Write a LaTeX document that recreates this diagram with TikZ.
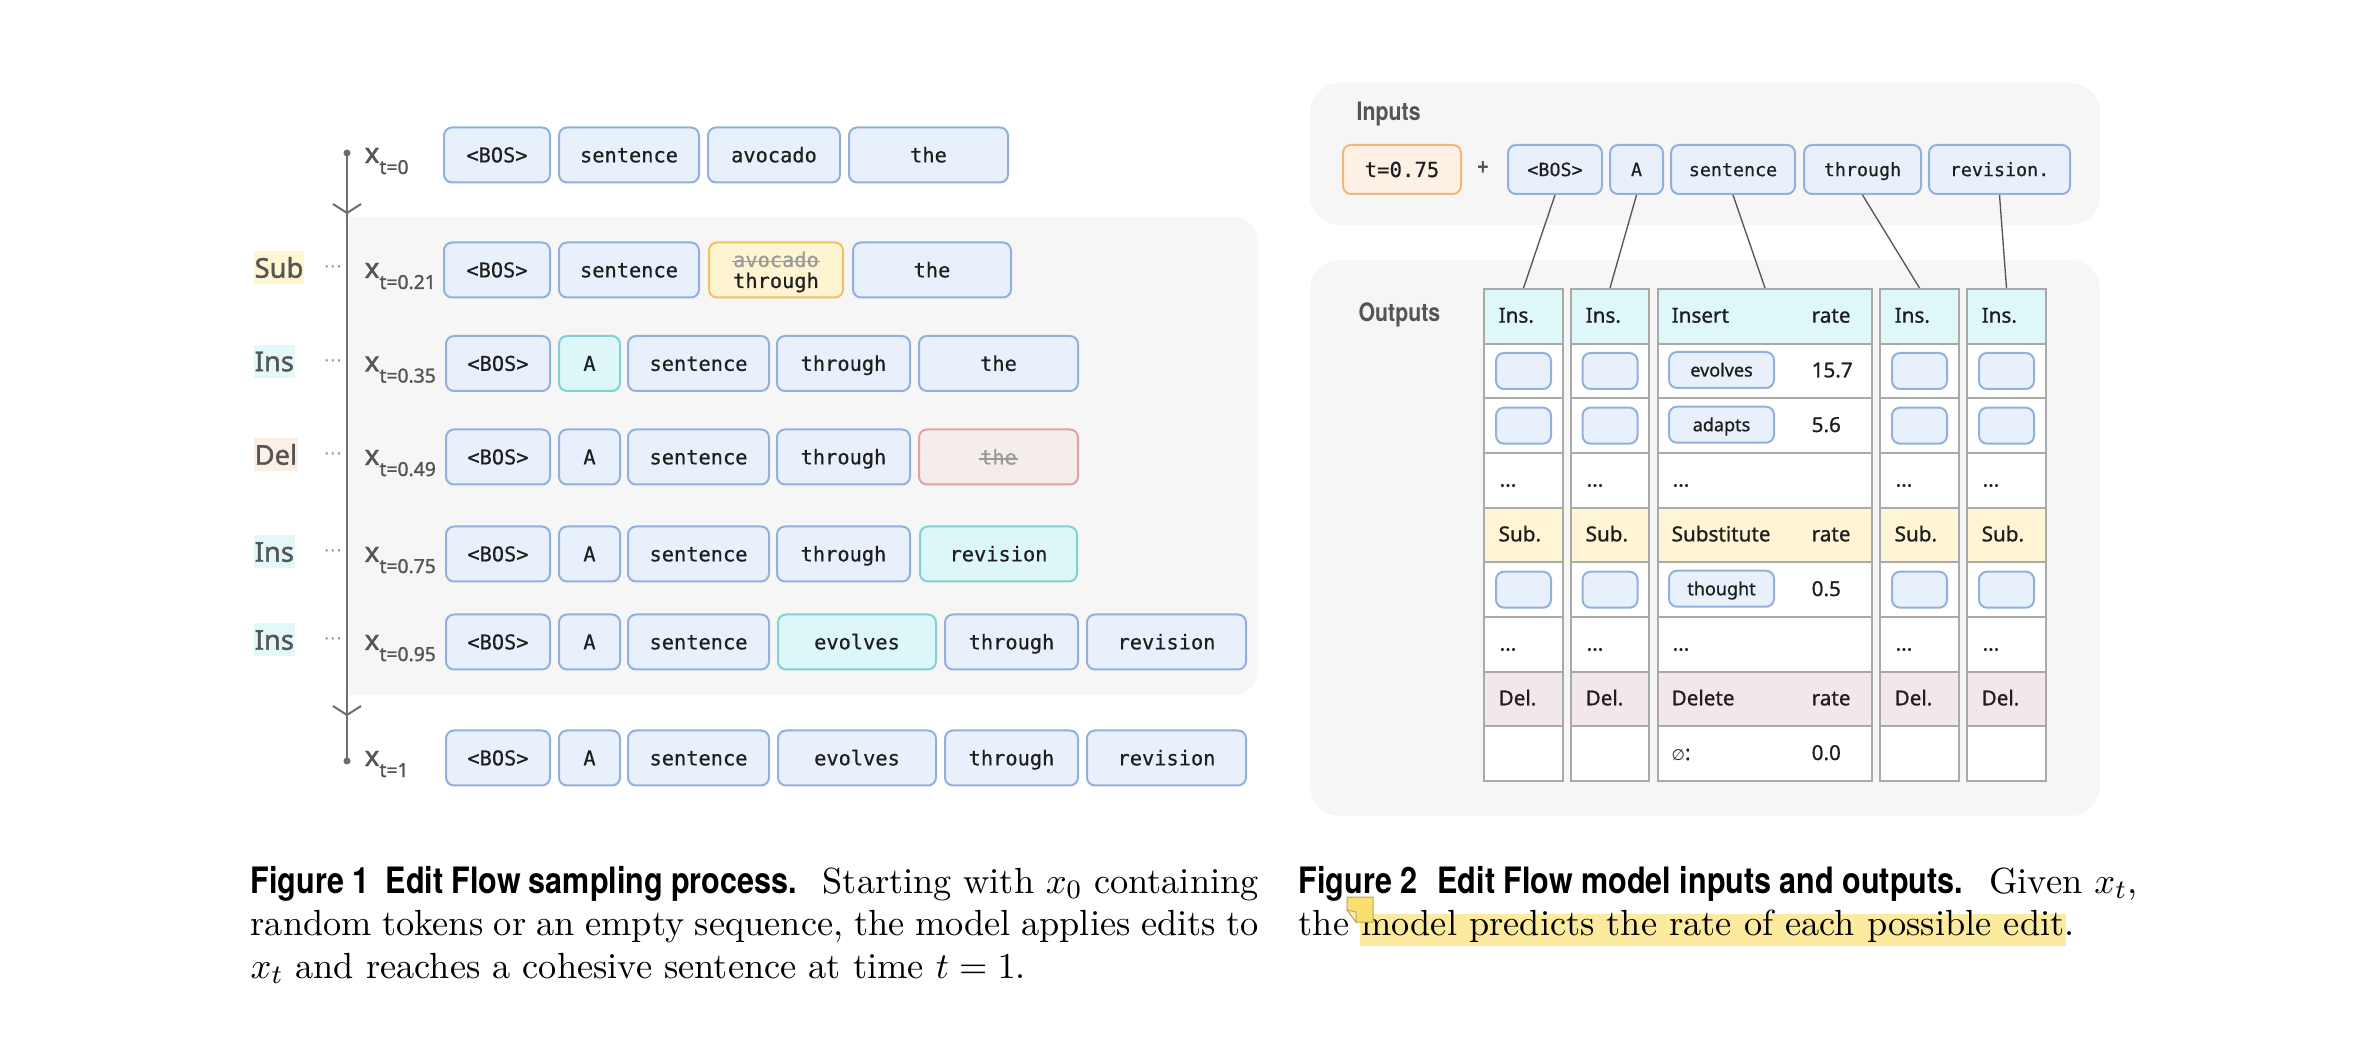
\documentclass[tikz,border=0pt]{standalone}
\usepackage{fontspec}
\setmainfont{Latin Modern Roman}
\newfontfamily\nsans{Noto Sans}[FakeBold=0.9]
\newfontfamily\nsansm{Noto Sans}[FakeBold=1.4]
\newfontfamily\mono{DejaVu Sans Mono}[FakeBold=0.5]
\newfontfamily\dvs{DejaVu Sans}
\newfontfamily\capbf{TeX Gyre Heros}[FakeStretch=0.84]
\newcommand\fs[1]{\fontsize{#1}{#1}\selectfont}
\definecolor{tokf}{HTML}{E8F0FB}
\definecolor{tokb}{HTML}{92B0DC}
\definecolor{cyf}{HTML}{DDF7F8}
\definecolor{cyb}{HTML}{7FD2D2}
\definecolor{yef}{HTML}{FFF4D2}
\definecolor{yeb}{HTML}{EFC062}
\definecolor{ref}{HTML}{F5ECEC}
\definecolor{reb}{HTML}{E3A2A2}
\definecolor{orf}{HTML}{FDF1E6}
\definecolor{orb}{HTML}{F2B878}
\definecolor{panel}{HTML}{F6F6F6}
\definecolor{axisc}{HTML}{6E6E6E}
\definecolor{lbl}{HTML}{555555}
\definecolor{strk}{HTML}{9A9A9A}
\definecolor{subbg}{HTML}{FFF6D2}
\definecolor{insbg}{HTML}{E2F8F9}
\definecolor{delbg}{HTML}{FCEFE3}
\definecolor{insf}{HTML}{DEF7F9}
\definecolor{subf}{HTML}{FFF5D5}
\definecolor{delf}{HTML}{F2E8EC}
\definecolor{cellb}{HTML}{A9A9A9}
\definecolor{txt}{HTML}{1E1E1E}
\definecolor{hl}{HTML}{FCEA9E}
\definecolor{notef}{HTML}{F8DF6E}
\definecolor{noteb}{HTML}{BFA75A}
\newcommand\tk[6][tok]{\node[#1,minimum width={(#4-#3)*0.3pt}] (#2) at ({(#3+#4)/2},#5) {#6};}
\newcommand\subf{\nsansm\fs{5.8pt}}
\tikzset{
  tok/.style={draw=tokb, fill=tokf, line width=0.6pt, rounded corners=2.4pt, inner sep=0pt,
    minimum height=16.5pt, font=\mono\fs{6.1pt}, text=txt, text height=4.4pt, text depth=0pt},
  tokc/.style={tok, draw=cyb, fill=cyf},
  toky/.style={tok, draw=yeb, fill=yef},
  tokr/.style={tok, draw=reb, fill=ref},
  itok/.style={tok, minimum height=14.7pt, font=\mono\fs{5.5pt}, text height=4pt},
  toko/.style={itok, draw=orb, fill=orf, font=\mono\fs{6.2pt}, text height=4.5pt},
  ttxt/.style={inner sep=0pt, font=\mono\fs{6.1pt}, text=txt, anchor=base},
  xlab/.style={anchor=base west, inner sep=0pt, font=\nsansm\fs{8.4pt}, text=lbl},
  rlab/.style={anchor=west, inner xsep=0.3pt, inner ysep=0pt, minimum height=9.9pt,
    font=\nsansm\fs{8.2pt}, text=lbl, text height=5.85pt, text depth=0pt},
  rdots/.style={inner sep=0pt, font=\dvs\fs{5.7pt}, text=strk},
  dot/.style={circle, fill=axisc, inner sep=0pt, minimum size=2.1pt},
  axisl/.style={draw=axisc, line width=0.6pt},
  lblb/.style={anchor=base west, inner sep=0pt, font=\capbf\bfseries\fs{7.6pt}, text=lbl},
  conn/.style={draw=lbl, line width=0.4pt},
  cell/.style={draw=cellb, line width=0.6pt, inner sep=0pt, minimum height={54.67*0.3pt}},
  tbl/.style={anchor=west, inner sep=0pt, font=\nsans\fs{6.2pt}, text=txt, text height=4.4pt, text depth=0pt},
  sbox/.style={draw=tokb, fill=tokf, line width=0.6pt, rounded corners=2.4pt, inner sep=0pt,
    minimum width=16.5pt, minimum height=10.8pt},
  wbox/.style={sbox, minimum width=31.5pt, font=\nsans\fs{5.4pt}, text=txt, text height=3.9pt, text depth=0pt},
  capl/.style={anchor=base west, inner sep=0pt, font=\fs{10.9pt}, text=black},
}
\begin{document}
\begin{tikzpicture}[x=0.3pt, y=-0.3pt]
\useasboundingbox[fill=white] (0,0) rectangle (2362,1044);
% ---------- left panel background
\begin{scope}
  \clip (349,0) rectangle (1400,1044);
  \fill[panel, rounded corners=7.5pt] (300,217) rectangle (1258,695);
\end{scope}
% axis
\node[dot] (ax0) at (347,153) {};
\node[dot] (ax1) at (347,761) {};
\draw[axisl] (ax0.center) -- (ax1.center);
\draw[axisl] (333,204) -- (347,213) -- (361,204);
\draw[axisl] (333,706) -- (347,715) -- (361,706);
% x labels
\node[xlab] (x0) at (364,163) {x\raisebox{-3.3pt}{\subf t=0}};
\node[xlab] (x1) at (364,278) {x\raisebox{-3.3pt}{\subf t=0.21}};
\node[xlab] (x2) at (364,371.5) {x\raisebox{-3.3pt}{\subf t=0.35}};
\node[xlab] (x3) at (364,465) {x\raisebox{-3.3pt}{\subf t=0.49}};
\node[xlab] (x4) at (364,562) {x\raisebox{-3.3pt}{\subf t=0.75}};
\node[xlab] (x5) at (364,650) {x\raisebox{-3.3pt}{\subf t=0.95}};
\node[xlab] (x6) at (364,766) {x\raisebox{-3.3pt}{\subf t=1}};
% row labels
\node[rlab, fill=subbg] (l1) at (253,268) {Sub};
\node[rlab, fill=insbg] (l2) at (253,361.5) {Ins};
\node[rlab, fill=delbg] (l3) at (253,455) {Del};
\node[rlab, fill=insbg] (l4) at (253,552) {Ins};
\node[rlab, fill=insbg] (l5) at (253,640) {Ins};
\node[rdots] (d1) at (333,270) {···};
\node[rdots] (d2) at (333,363.5) {···};
\node[rdots] (d3) at (333,457) {···};
\node[rdots] (d4) at (333,554) {···};
\node[rdots] (d5) at (333,642) {···};
% row 0
\tk{a0}{444}{550}{155}{<BOS>}
\tk{a1}{559}{699}{155}{sentence}
\tk{a2}{708}{840}{155}{avocado}
\tk{a3}{849}{1008}{155}{the}
% row 1
\tk{b0}{444}{550}{270}{<BOS>}
\tk{b1}{559}{699}{270}{sentence}
\tk[toky]{b2}{709}{843}{270}{}
\tk{b3}{853}{1011}{270}{the}
\node[ttxt, text=strk] (b2o) at (776,267) {avocado};
\draw[strk, line width=0.45pt] ([yshift=1.65pt]b2o.base west) -- ([yshift=1.65pt]b2o.base east);
\node[ttxt] (b2n) at (776,288) {through};
% row 2
\tk{c0}{446}{550}{363.5}{<BOS>}
\tk[tokc]{c1}{559}{620}{363.5}{A}
\tk{c2}{628}{769}{363.5}{sentence}
\tk{c3}{777}{910}{363.5}{through}
\tk{c4}{919}{1078}{363.5}{the}
% row 3
\tk{e0}{446}{550}{457}{<BOS>}
\tk{e1}{559}{620}{457}{A}
\tk{e2}{628}{769}{457}{sentence}
\tk{e3}{777}{910}{457}{through}
\tk[tokr]{e4}{919}{1078}{457}{}
\node[ttxt, text=strk] (e4t) at (998.5,464.5) {the};
\draw[strk, line width=0.45pt] ([yshift=1.65pt]e4t.base west) -- ([yshift=1.65pt]e4t.base east);
% row 4
\tk{f0}{446}{550}{554}{<BOS>}
\tk{f1}{559}{620}{554}{A}
\tk{f2}{628}{769}{554}{sentence}
\tk{f3}{777}{910}{554}{through}
\tk[tokc]{f4}{920}{1077}{554}{revision}
% row 5
\tk{g0}{446}{550}{642}{<BOS>}
\tk{g1}{559}{620}{642}{A}
\tk{g2}{628}{769}{642}{sentence}
\tk[tokc]{g3}{778}{936}{642}{evolves}
\tk{g4}{945}{1078}{642}{through}
\tk{g5}{1087}{1246}{642}{revision}
% row 6
\tk{h0}{446}{550}{758}{<BOS>}
\tk{h1}{559}{620}{758}{A}
\tk{h2}{628}{769}{758}{sentence}
\tk{h3}{778}{936}{758}{evolves}
\tk{h4}{945}{1078}{758}{through}
\tk{h5}{1087}{1246}{758}{revision}
% ---------- right panel
\fill[panel, rounded corners=9pt] (1310,83) rectangle (2100,225);
\fill[panel, rounded corners=9pt] (1310,260) rectangle (2100,816);
\node[lblb] (inl) at (1356,121) {Inputs};
\node[lblb] (outl) at (1358,322) {Outputs};
\tk[toko]{tin}{1343}{1461}{169.5}{t=0.75}
\node[inner sep=0pt, font=\capbf\bfseries\fs{7.5pt}, text=lbl] (plus) at (1483,167) {+};
\tk[itok]{i1}{1508}{1602}{169.5}{<BOS>}
\tk[itok]{i2}{1610}{1663}{169.5}{A}
\tk[itok]{i3}{1671}{1795}{169.5}{sentence}
\tk[itok]{i4}{1804}{1921}{169.5}{through}
\tk[itok]{i5}{1929}{2070}{169.5}{revision.}
% table cells
\foreach \ci/\cx/\cw in {1/1483/79, 2/1570/78, 3/1657/214, 4/1879/79, 5/1966/79}{
  \foreach \r/\cf in {0/insf,1/white,2/white,3/white,4/subf,5/white,6/white,7/delf,8/white}{
    \node[cell, fill=\cf, minimum width={\cw*0.3pt}, anchor=north west] (c\ci-\r) at (\cx,{288+54.67*\r}) {};
  }
}
% connectors
\draw[conn] (i1.south) -- (c1-0.north);
\draw[conn] (i2.south) -- (c2-0.north);
\draw[conn] (i3.south) -- (c3-0.north);
\draw[conn] (i4.south) -- (c4-0.north);
\draw[conn] (i5.south) -- (c5-0.north);
% narrow column contents
\foreach \ci/\cx in {1/1483,2/1570,4/1879,5/1966}{
  \node[tbl] (ti\ci) at ({\cx+15},315.3) {Ins.};
  \node[tbl] (ts\ci) at ({\cx+15},534) {Sub.};
  \node[tbl] (td\ci) at ({\cx+15},698) {Del.};
  \node[tbl] (te\ci) at ({\cx+16},479.3) {...};
  \node[tbl] (tf\ci) at ({\cx+16},643.3) {...};
  \node[sbox] (sa\ci) at (c\ci-1) {};
  \node[sbox] (sb\ci) at (c\ci-2) {};
  \node[sbox] (sc\ci) at (c\ci-5) {};
}
% wide column contents
\node[tbl] (h3a) at (1671,315.3) {Insert};
\node[tbl] (h3b) at (1811,315.3) {rate};
\node[wbox] (w1) at (1721.5,370) {evolves};
\node[tbl] (r1) at (1811,370) {15.7};
\node[wbox] (w2) at (1721.5,424.7) {adapts};
\node[tbl] (r2) at (1811,424.7) {5.6};
\node[tbl] (e3c) at (1672,479.3) {...};
\node[tbl] (h3c) at (1671,534) {Substitute};
\node[tbl] (h3d) at (1811,534) {rate};
\node[wbox] (w3) at (1721.5,588.7) {thought};
\node[tbl] (r3) at (1811,588.7) {0.5};
\node[tbl] (e6c) at (1672,643.3) {...};
\node[tbl] (h3e) at (1671,698) {Delete};
\node[tbl] (h3f) at (1811,698) {rate};
\node[tbl] (nul) at (1671,752.7) {{\dvs\fs{4.6pt}∅}:};
\node[tbl] (r4) at (1811,752.7) {0.0};
% ---------- captions
\node[capl] (cap1a) at (250,893) {\makebox[302.4pt][s]{{\capbf\bfseries Figure 1\hspace{5pt}Edit Flow sampling process.}\hspace{3pt} Starting with $x_0$ containing}};
\node[capl] (cap1b) at (250,935.5) {\makebox[302.4pt][s]{random tokens or an empty sequence, the model applies edits to}};
\node[capl] (cap1c) at (250,978) {$x_t$ and reaches a cohesive sentence at time $t=1$.};
\fill[hl] (1360,914) rectangle (2066,946);
\node[capl] (cap2a) at (1298,893) {{\capbf\bfseries Figure 2\hspace{6pt}Edit Flow model inputs and outputs.}\hspace{3pt} Given $x_t$,};
\node[capl] (cap2b) at (1298,935) {the model predicts the rate of each possible edit.};
\filldraw[fill=notef, draw=noteb, line width=0.3pt] (1347,897) -- (1373,897) -- (1373,922) -- (1356,922) -- (1347,910) -- cycle;
\filldraw[fill=notef!50!white, draw=noteb, line width=0.3pt] (1347,910) -- (1356,912) -- (1356,922) -- cycle;
\end{tikzpicture}
\end{document}
